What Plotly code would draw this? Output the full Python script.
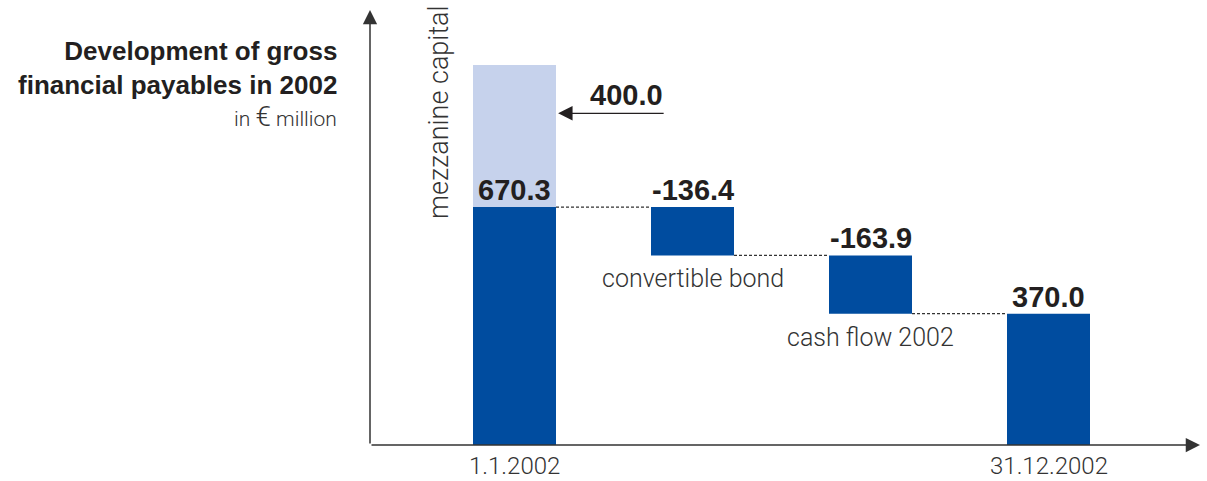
import plotly.graph_objects as go

# --- data -------------------------------------------------------------
steps = ["1.1.2002", "convertible bond", "cash flow 2002", "31.12.2002"]
opening = 670.3
mezzanine = 400.0
changes = [-136.4, -163.9]
closing = 370.0
tick_labels = ["1.1.2002", "31.12.2002"]

# --- geometry (pixels) -------------------------------------------------
W, H = 1207, 481
ML, MR, MT, MB = 370, 7, 10, 36
PX_PER_STEP = 178.0
PX_PER_UNIT = 0.355
X0 = -144.5 / PX_PER_STEP
X1 = X0 + (W - ML - MR) / PX_PER_STEP
Y1 = (H - MT - MB) / PX_PER_UNIT
BAR_W = 83 / PX_PER_STEP

DARK = "#004c9f"
LIGHT = "#c6d2ec"
INK = "#231f20"
GREY = "#333333"


def paper_x(px):
    return (px - ML) / (W - ML - MR)


def paper_y(py):
    return (H - MB - py) / (H - MT - MB)


# waterfall levels
levels = [opening]
for c in changes:
    levels.append(levels[-1] + c)
bases = [0.0] + [levels[i + 1] for i in range(len(changes))] + [0.0]
heights = [opening] + [-c for c in changes] + [closing]
xs = list(range(len(steps)))

fig = go.Figure()
fig.add_trace(go.Bar(x=xs, y=heights, base=bases, width=BAR_W,
                     marker=dict(color=DARK, line=dict(width=0)),
                     hoverinfo="skip"))
fig.add_trace(go.Bar(x=[0], y=[mezzanine], base=[opening], width=BAR_W,
                     marker=dict(color=LIGHT, line=dict(width=0)),
                     hoverinfo="skip"))

# dashed connectors between bars
conn_levels = [opening] + levels[1:]
for i, lv in enumerate(conn_levels):
    fig.add_shape(type="line", xref="x", yref="y",
                  x0=i + BAR_W / 2, x1=i + 1 - BAR_W / 2, y0=lv, y1=lv,
                  line=dict(color="#333333", width=1.2, dash="3px,2px"))

ann = []
bold = dict(family="Liberation Sans", size=29, color=INK, weight="bold")
light = dict(family="Roboto", size=25, color=GREY, weight=300)

# value labels on top of each bar
values = [opening] + changes + [closing]
tops = [bases[i] + heights[i] for i in range(len(steps))]
for i, v in enumerate(values):
    ann.append(dict(x=i, y=tops[i], xref="x", yref="y", text=f"{v:.1f}",
                    showarrow=False, xanchor="center", yanchor="bottom",
                    yshift=-1, font=bold))

# step names under the intermediate bars
for i in (1, 2):
    ann.append(dict(x=i, y=bases[i], xref="x", yref="y", text=steps[i],
                    showarrow=False, xanchor="center", yanchor="top",
                    yshift=-7, font=light))

# dates under the first and last bar
for i, lab in zip((0, len(steps) - 1), tick_labels):
    ann.append(dict(x=i, y=paper_y(466), xref="x", yref="paper", text=lab,
                    showarrow=False, xanchor="center", yanchor="middle",
                    font=dict(family="Roboto", size=24, color=GREY,
                              weight=300)))

# mezzanine capital: arrow and amount
arrow_y = opening + mezzanine * 0.66
arrow_x = BAR_W / 2 + 0.012
ann.append(dict(x=arrow_x, y=arrow_y, xref="x", yref="y",
                ax=107, ay=0, axref="pixel", ayref="pixel", text="",
                showarrow=True, arrowhead=2, arrowsize=2.4, arrowwidth=1.2,
                arrowcolor=INK))
ann.append(dict(x=arrow_x + 107 / PX_PER_STEP, y=arrow_y,
                xref="x", yref="y", text=f"{mezzanine:.1f}", showarrow=False,
                xanchor="right", yanchor="bottom", yshift=0, font=bold))
ann.append(dict(x=paper_x(439), y=paper_y(112), xref="paper", yref="paper",
                text="mezzanine capital", textangle=-90, showarrow=False,
                xanchor="center", yanchor="middle",
                font=dict(family="Roboto", size=27, color=GREY, weight=300)))

# axes drawn as arrows
ann.append(dict(x=0, y=1, xref="paper", yref="paper", ax=0, ay=H - MT - MB,
                axref="pixel", ayref="pixel", text="", showarrow=True,
                arrowhead=2, arrowsize=1.9, arrowwidth=1.5, arrowcolor=GREY))
ann.append(dict(x=1, y=0, xref="paper", yref="paper", ax=-(W - ML - MR), ay=0,
                axref="pixel", ayref="pixel", text="", showarrow=True,
                arrowhead=2, arrowsize=1.9, arrowwidth=1.5, arrowcolor=GREY))

# title block
ann.append(dict(x=paper_x(339), y=paper_y(34), xref="paper", yref="paper",
                text="Development of gross<br>financial payables in 2002",
                showarrow=False, xanchor="right", yanchor="top", align="right",
                font=dict(family="Liberation Sans", size=26, color=INK,
                          weight="bold")))
ann.append(dict(x=paper_x(339), y=paper_y(98), xref="paper", yref="paper",
                text="in <span style='font-size:28px'>€</span> million",
                showarrow=False, xanchor="right",
                yanchor="top", font=dict(family="Roboto", size=21,
                                         color=GREY, weight=300)))

fig.update_layout(
    width=W, height=H, margin=dict(l=ML, r=MR, t=MT, b=MB, autoexpand=False),
    paper_bgcolor="white", plot_bgcolor="white",
    showlegend=False, barmode="overlay", annotations=ann,
    xaxis=dict(range=[X0, X1], showgrid=False, zeroline=False,
               showline=False, showticklabels=False, ticks="",
               automargin=False),
    yaxis=dict(range=[0, Y1], showgrid=False, zeroline=False,
               showline=False, showticklabels=False, ticks="",
               automargin=False),
)

fig.write_html("out.html")
